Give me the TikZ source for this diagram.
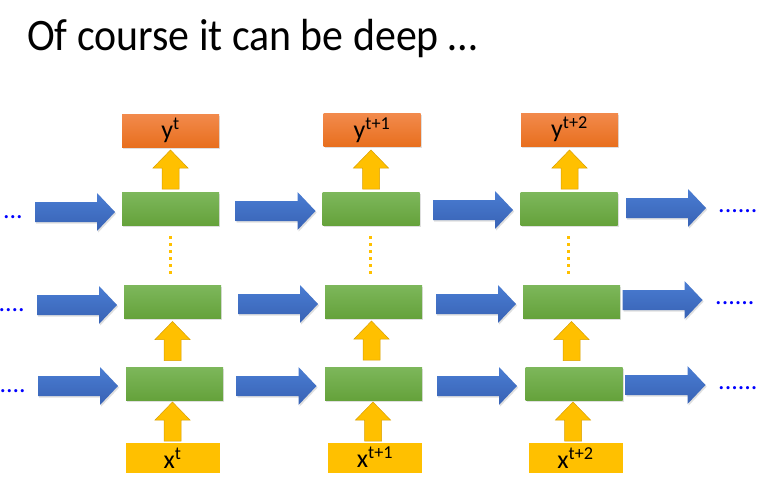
\documentclass[tikz,border=0pt]{standalone}
\usepackage{fontspec}
\setmainfont{Carlito}
\usetikzlibrary{shadows}
\definecolor{gtop}{HTML}{7DB75B}
\definecolor{gbot}{HTML}{65A23B}
\definecolor{btop}{HTML}{4A7DD3}
\definecolor{bbot}{HTML}{3862B4}
\definecolor{otop}{HTML}{F28A4C}
\definecolor{obot}{HTML}{E86F1E}
\definecolor{yel}{HTML}{FFC000}
\definecolor{yeld}{HTML}{D9A000}
\definecolor{dotblue}{HTML}{0000FF}
\tikzset{
  shade/.style={drop shadow={shadow xshift=1.2pt,shadow yshift=-1.5pt,opacity=0.25}},
  greenbox/.style={rectangle,minimum width=97pt,minimum height=33pt,inner sep=0pt,
    top color=gtop,bottom color=gbot,draw=none,shade},
  ybox/.style={rectangle,minimum width=97pt,minimum height=33pt,inner sep=0pt,
    top color=otop,bottom color=obot,draw=none,shade,font=\fontsize{26}{26}\selectfont},
  xbox/.style={rectangle,minimum width=94pt,minimum height=30pt,inner sep=0pt,
    fill=yel,draw=none,font=\fontsize{26}{26}\selectfont},
  bluearrow/.style={top color=btop,bottom color=bbot,draw=none,shade},
  uparrow/.style={fill=yel,draw=yeld,line width=0.5pt,line join=miter},
  dots/.style={text=dotblue,font=\fontsize{26}{26}\selectfont,inner sep=0pt},
  vdots/.style={draw=yel,line width=3pt,dash pattern=on 3pt off 4pt},
}
% blue arrow centred at named coordinate: length 80, shaft 20, head 38, head length 18
\newcommand{\bluearr}[1]{%
  \path[bluearrow] (#1) ++(-40,-10) -- ++(62,0) -- ++(0,-9) -- ++(18,19)
    -- ++(-18,19) -- ++(0,-9) -- ++(-62,0) -- cycle;}
% yellow up arrow centred at named coordinate: length 39, shaft 17, head 35, head length 18
\newcommand{\yelarr}[1]{%
  \path[uparrow] (#1) ++(-8.5,19.5) -- ++(0,-21) -- ++(-9,0) -- ++(17.5,-18)
    -- ++(17.5,18) -- ++(-9,0) -- ++(0,21) -- cycle;}
\begin{document}
\begin{tikzpicture}[x=1pt,y=-1pt]
\useasboundingbox[fill=white] (0,0) rectangle (769,480);
\node[anchor=base west,inner sep=0pt,xscale=0.93,font=\fontsize{45}{45}\selectfont] (title) at (27,50) {Of course it can be deep \ldots};
% green boxes
\node[greenbox] (g11) at (170.5,209) {};
\node[greenbox] (g12) at (371,209) {};
\node[greenbox] (g13) at (569,209) {};
\node[greenbox] (g21) at (172.5,302) {};
\node[greenbox] (g22) at (373.5,301.5) {};
\node[greenbox] (g23) at (571.5,301.5) {};
\node[greenbox] (g31) at (174.5,383.5) {};
\node[greenbox] (g32) at (373.5,383.5) {};
\node[greenbox] (g33) at (574,383.5) {};
% outputs
\node[ybox] (y1) at (170.5,130.5) {y\textsuperscript{t}};
\node[ybox] (y2) at (372,130) {y\textsuperscript{t+1}};
\node[ybox] (y3) at (569.5,129.5) {y\textsuperscript{t+2}};
% inputs
\node[xbox] (x1) at (172.5,458) {x\textsuperscript{t}};
\node[xbox] (x2) at (375,457.5) {x\textsuperscript{t+1}};
\node[xbox] (x3) at (575.5,458) {x\textsuperscript{t+2}};
% yellow up arrows
\coordinate (u11) at (170.5,169.5); \yelarr{u11}
\coordinate (u12) at (371,169.5);   \yelarr{u12}
\coordinate (u13) at (569.5,169.5); \yelarr{u13}
\coordinate (u21) at (172.5,341);   \yelarr{u21}
\coordinate (u22) at (371.5,340.5); \yelarr{u22}
\coordinate (u23) at (571.5,341);   \yelarr{u23}
\coordinate (u31) at (172.5,421.5); \yelarr{u31}
\coordinate (u32) at (373,421.5);   \yelarr{u32}
\coordinate (u33) at (573,421.5);   \yelarr{u33}
% blue arrows
\coordinate (b10) at (75,212);    \bluearr{b10}
\coordinate (b11) at (275.5,211); \bluearr{b11}
\coordinate (b12) at (473,210);   \bluearr{b12}
\coordinate (b13) at (666,208);   \bluearr{b13}
\coordinate (b20) at (77,305);    \bluearr{b20}
\coordinate (b21) at (278,304);   \bluearr{b21}
\coordinate (b22) at (476,304);   \bluearr{b22}
\coordinate (b23) at (662.5,300); \bluearr{b23}
\coordinate (b30) at (78,386);    \bluearr{b30}
\coordinate (b31) at (276.5,386); \bluearr{b31}
\coordinate (b32) at (477,386);   \bluearr{b32}
\coordinate (b33) at (665.5,385); \bluearr{b33}
% dots
\node[dots,anchor=base east] (d10) at (23,218) {...};
\node[dots,anchor=base east] (d20) at (25,311) {....};
\node[dots,anchor=base east] (d30) at (26,392) {....};
\node[dots,anchor=base west] (d13) at (718,212) {......};
\node[dots,anchor=base west] (d23) at (715,304) {......};
\node[dots,anchor=base west] (d33) at (718,389) {......};
% vertical dotted lines
\coordinate (v1a) at (170,236); \coordinate (v1b) at (170,276);
\coordinate (v2a) at (370,236); \coordinate (v2b) at (370,276);
\coordinate (v3a) at (568,236); \coordinate (v3b) at (568,276);
\draw[vdots] (v1a) -- (v1b);
\draw[vdots] (v2a) -- (v2b);
\draw[vdots] (v3a) -- (v3b);
\end{tikzpicture}
\end{document}
